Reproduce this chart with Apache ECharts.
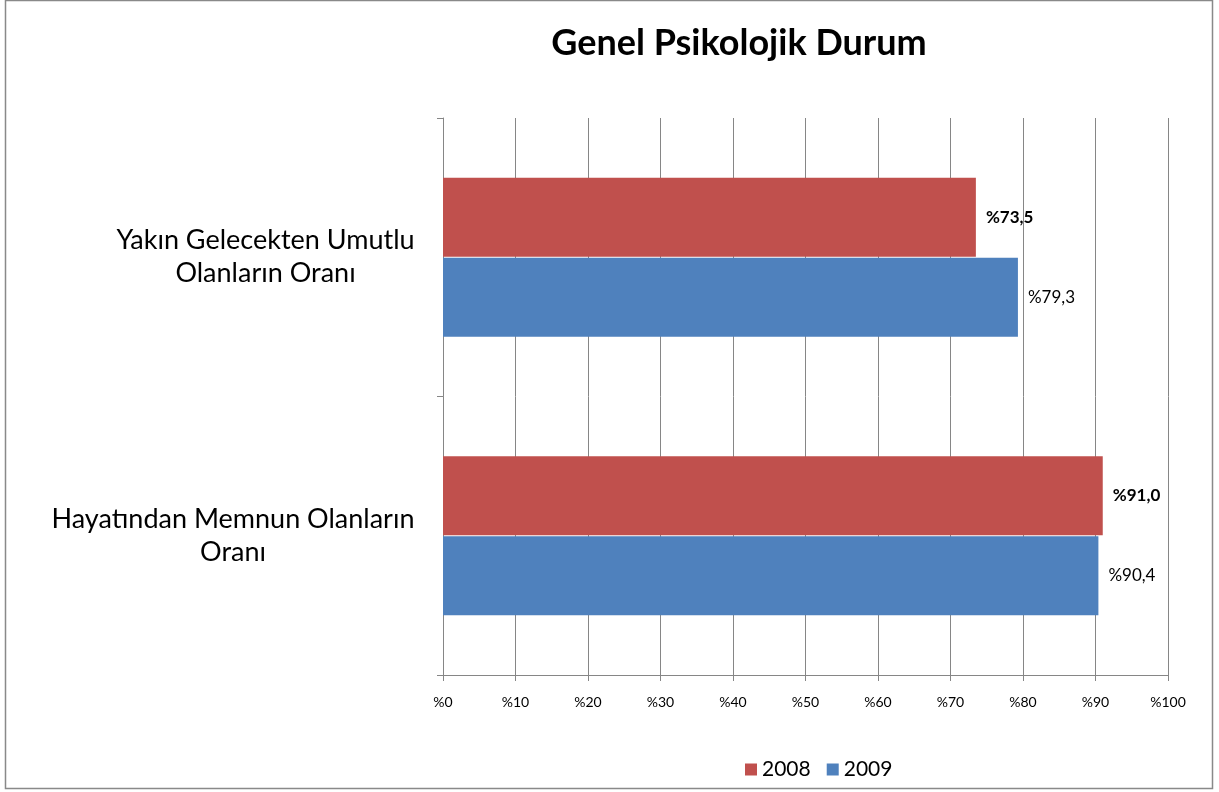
<!DOCTYPE html>
<html>
<head>
<meta charset="utf-8">
<title>Genel Psikolojik Durum</title>
<script src="https://cdn.jsdelivr.net/npm/echarts@6/dist/echarts.min.js"></script>
<style>
    html, body { margin: 0; padding: 0; background: #fff; }
    #chart { width: 1219px; height: 792px; }
</style>
</head>
<body>
<div id="chart"></div>
<script>
// kategoriler (yukaridan asagiya)
var categories = ['Yakın Gelecekten Umutlu\nOlanların Oranı', 'Hayatından Memnun Olanların\nOranı'];
var seriesNames = ['2008', '2009'];
var values2008 = [73.5, 91.0];
var values2009 = [79.3, 90.4];
var xTicks = [0, 10, 20, 30, 40, 50, 60, 70, 80, 90, 100];

var FONT = 'Lato';
var LABEL_SIZE = 27;

// en uzun satirin genisligi, satirlari ortalamak icin
function measureLine(text, size) {
    var ctx = document.createElement('canvas').getContext('2d');
    ctx.font = size + 'px ' + FONT;
    return Math.ceil(ctx.measureText(text).width);
}

var richLabels = {};
categories.forEach(function (c, i) {
    var lines = c.split('\n');
    var w = 0;
    lines.forEach(function (l) { w = Math.max(w, measureLine(l, LABEL_SIZE)); });
    richLabels['c' + i] = {width: w, align: 'center', fontSize: LABEL_SIZE, lineHeight: 33, color: '#000', fontFamily: FONT};
});

function pct(v) {
    return '%' + v.toFixed(1).replace('.', ',');
}

var chart = echarts.init(document.getElementById('chart'));
var option = {
    animation: false,
    textStyle: {fontFamily: FONT},
    title: {
        text: 'Genel Psikolojik Durum',
        left: 734,
        top: 20,
        textAlign: 'center',
        textStyle: {fontSize: 36, fontWeight: 'bold', color: '#000', fontFamily: FONT}
    },
    legend: {
        data: seriesNames,
        left: 740,
        top: 754,
        icon: 'rect',
        itemWidth: 12,
        itemHeight: 12,
        itemGap: 16,
        textStyle: {fontSize: 21, color: '#000', fontFamily: FONT}
    },
    grid: {left: 443, right: 51, top: 118, bottom: 117},
    xAxis: {
        type: 'value',
        min: 0,
        max: 100,
        interval: 10,
        axisLine: {show: true, lineStyle: {color: '#868686'}},
        axisTick: {show: true, length: 6, lineStyle: {color: '#868686'}},
        splitLine: {show: true, lineStyle: {color: '#868686', width: 1}},
        axisLabel: {
            margin: 20,
            fontSize: 14,
            color: '#000',
            fontFamily: FONT,
            formatter: function (v) { return '%' + v; }
        }
    },
    yAxis: {
        type: 'category',
        inverse: true,
        data: categories,
        axisLine: {show: true, lineStyle: {color: '#868686'}},
        axisTick: {show: true, length: 6, lineStyle: {color: '#868686'}},
        splitLine: {show: false},
        axisLabel: {
            margin: 28,
            align: 'right',
            formatter: function (v, i) {
                return v.split('\n').map(function (l) { return '{c' + i + '|' + l + '}'; }).join('\n');
            },
            rich: richLabels
        }
    },
    graphic: [{
        type: 'rect',
        shape: {x: 5.5, y: 0.5, width: 1207, height: 788},
        style: {fill: null, stroke: '#898989', lineWidth: 1.5},
        silent: true
    }],
    series: [{
        name: seriesNames[0],
        type: 'bar',
        data: values2008,
        barWidth: 79,
        barGap: '1%',
        itemStyle: {color: '#C0504D'},
        label: {
            show: true,
            position: 'right',
            distance: 10,
            fontSize: 17,
            fontWeight: 'bold',
            color: '#000',
            fontFamily: FONT,
            formatter: function (p) { return pct(p.value); }
        }
    }, {
        name: seriesNames[1],
        type: 'bar',
        data: values2009,
        barWidth: 79,
        barGap: '1%',
        itemStyle: {color: '#4F81BD'},
        label: {
            show: true,
            position: 'right',
            distance: 10,
            fontSize: 17,
            color: '#000',
            fontFamily: FONT,
            formatter: function (p) { return pct(p.value); }
        }
    }]
};
chart.setOption(option);
</script>
</body>
</html>
